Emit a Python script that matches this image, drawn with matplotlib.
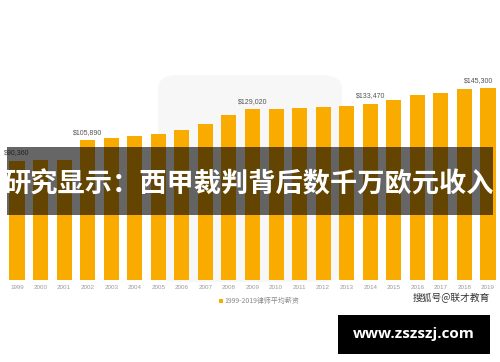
import matplotlib
matplotlib.use('Agg')
import matplotlib.pyplot as plt
from matplotlib.patches import FancyBboxPatch, Rectangle

plt.rcParams['font.family'] = ['Noto Sans CJK SC', 'DejaVu Sans']

# Average lawyer salary 1999-2019
years = [str(y) for y in range(1999, 2020)]
salaries = [90360, 90700, 90900, 105890, 107200, 108700, 110400, 113500, 118200, 124600,
            129020, 129100, 130300, 130900, 131800, 133470, 136200, 139900, 141700, 144200, 145300]
labelled = {0: '$90,360', 3: '$105,890', 10: '$129,020', 15: '$133,470', 20: '$145,300'}

title = '研究显示：西甲裁判背后数千万欧元收入'
legend_text = '1999-2019律师平均薪资'
source_text = '搜狐号@联才教育'
watermark = 'www.zszszj.com'

bar_color = '#F9AB00'
W, H = 500, 362

fig = plt.figure(figsize=(5, 3.62), dpi=100)
fig.patch.set_facecolor('white')

# faint rounded panel behind the middle of the chart
fig.patches.append(FancyBboxPatch((158 / W, 1 - 282 / H), 184 / W, 207 / H,
                                  boxstyle='round,pad=0,rounding_size=0.04',
                                  transform=fig.transFigure, facecolor='#F7F7F7',
                                  edgecolor='none', zorder=-1))

ax = fig.add_axes([0, 82 / H, 1, 280 / H])
ax.set_facecolor('none')
ax.set_zorder(1)
x = list(range(len(years)))
ax.bar(x, salaries, width=0.64, color=bar_color, zorder=2)
ax.set_xlim(-0.722, 20.51)
ax.set_ylim(0, 211800)
ax.axhline(0, xmin=7 / W, xmax=493 / W, color='#E2E2E2', lw=0.8, zorder=1)

for i, lab in labelled.items():
    ha = 'right' if i == len(years) - 1 else 'center'
    dx = 4 if ha == 'right' else 0
    ax.annotate(lab, (i, salaries[i]), xytext=(dx, 3), textcoords='offset points',
                ha=ha, va='bottom', fontsize=5, color='#555555',
                family=['Liberation Sans', 'DejaVu Sans'])

ax.set_xticks(x)
ax.set_xticklabels(years, fontsize=4.5, color='#9A9A9A', family=['Liberation Sans', 'DejaVu Sans'])
ax.tick_params(axis='x', length=0, pad=3.3)
ax.set_yticks([])
for s in ax.spines.values():
    s.set_visible(False)

# legend
fig.patches.append(Rectangle((218.5 / W, 1 - 303 / H), 4 / W, 4 / H,
                             transform=fig.transFigure, facecolor=bar_color, edgecolor='none', zorder=3))
fig.text(224 / W, 1 - 301 / H, legend_text, fontsize=5, color='#8A8A8A', va='center', ha='left')

# dark title banner
fig.patches.append(Rectangle((7 / W, 1 - 215 / H), 486 / W, 68 / H, transform=fig.transFigure,
                             facecolor='black', alpha=0.6, edgecolor='none', zorder=5))
fig.text(0.5 - 1 / W, 1 - 184 / H, title, fontsize=19.6, fontweight='bold', color='white',
         ha='center', va='center', zorder=6)

# source and watermark
fig.text(490 / W, 1 - 298 / H, source_text, fontsize=7, color='#333333', ha='right', va='center')
fig.patches.append(Rectangle((338 / W, 1 - 354 / H), 152 / W, 39 / H, transform=fig.transFigure,
                             facecolor='black', edgecolor='none', zorder=5))
fig.text(414 / W, 1 - 334 / H, watermark, fontsize=11, fontweight='bold', color='white',
         ha='center', va='center', family=['Open Sans', 'DejaVu Sans'], zorder=6)

fig.savefig('out.png', dpi=100)
